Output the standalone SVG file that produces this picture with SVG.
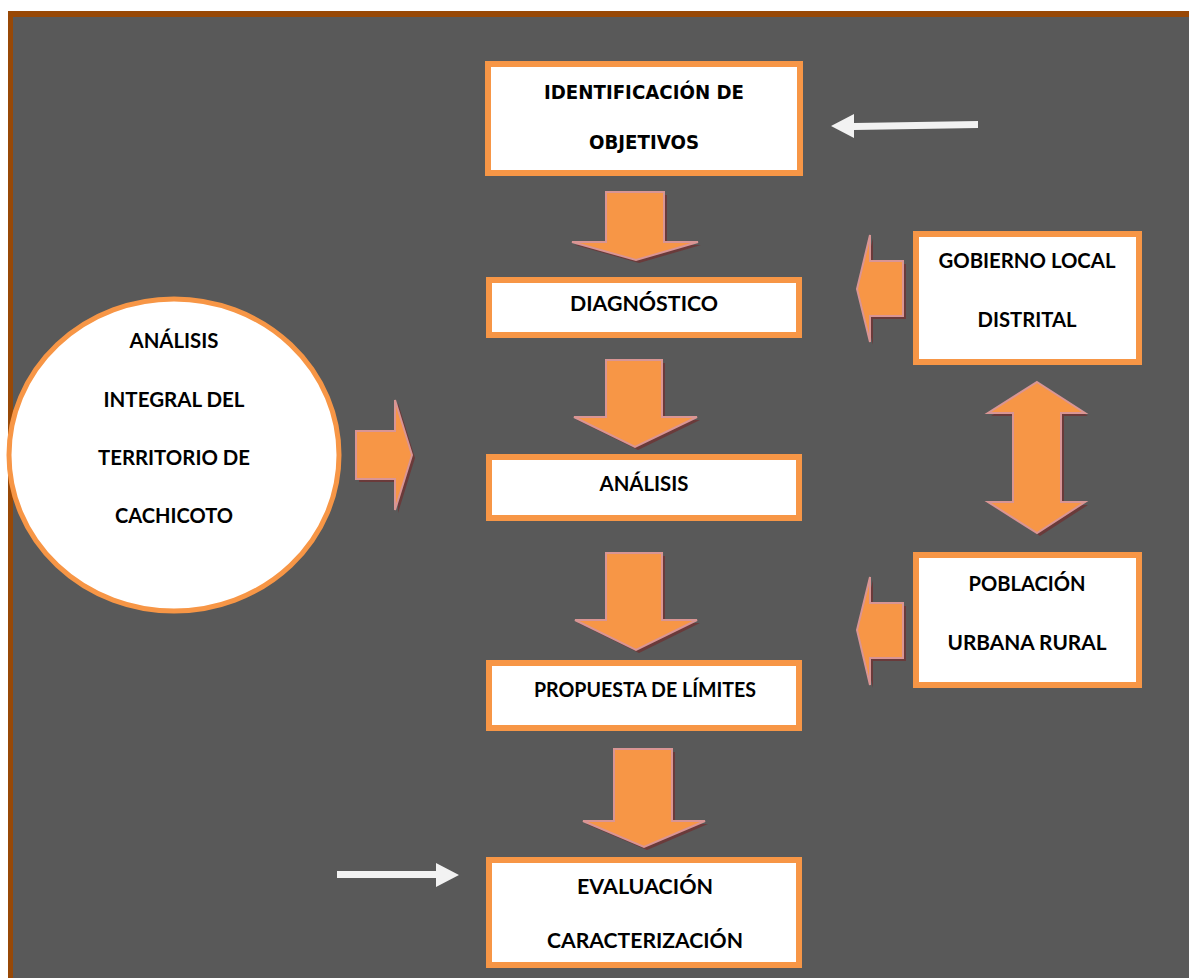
<svg xmlns="http://www.w3.org/2000/svg" width="1189" height="978" viewBox="0 0 1189 978">
<defs>
<style>
.box{fill:#ffffff;stroke:#F79646;stroke-width:6}
.arr{fill:#F79646;stroke:#D99594;stroke-width:2;stroke-linejoin:miter}
.sh{fill:#6a3a3a;stroke:none}
.wa{fill:#F2F2F2;stroke:none}
.t{font-family:Lato,"Liberation Sans",sans-serif;font-weight:bold;font-size:20px;fill:#000;text-anchor:middle}
.tg{font-family:"DejaVu Sans","Liberation Sans",sans-serif;font-weight:bold;font-size:19px;fill:#000;text-anchor:middle}
</style>
</defs>
<rect x="0" y="0" width="1189" height="978" fill="#ffffff"/>
<rect x="8" y="11" width="1181" height="967" fill="#984806"/>
<rect x="13" y="17" width="1176" height="961" fill="#595959"/>

<g id="connectors">
  <g transform="translate(3,3)">
    <polygon class="sh" points="606,192 664,192 664,242 698,242 636,260 572,242 606,242"/>
    <polygon class="sh" points="606,360 662,360 662,417 697,417 635,447 574,417 606,417"/>
    <polygon class="sh" points="606,553 662,553 662,620 697,620 636,650 575,620 606,620"/>
    <polygon class="sh" points="614,749 672,749 672,821 705,821 644,847 583,821 614,821"/>
    <polygon class="sh" points="356,431 395,431 395,400 412,455 395,510 395,479 356,479"/>
    <polygon class="sh" points="903,261 870,261 870,235 857,289 870,342 870,316 903,316"/>
    <polygon class="sh" points="903,603 870,603 870,577 857,630 870,685 870,658 903,658"/>
    <polygon class="sh" points="1037,382 1085,413 1061,413 1061,502 1085,502 1037,533 988,502 1013,502 1013,413 988,413"/>
  </g>
  <polygon class="arr" points="606,192 664,192 664,242 698,242 636,260 572,242 606,242"/>
  <polygon class="arr" points="606,360 662,360 662,417 697,417 635,447 574,417 606,417"/>
  <polygon class="arr" points="606,553 662,553 662,620 697,620 636,650 575,620 606,620"/>
  <polygon class="arr" points="614,749 672,749 672,821 705,821 644,847 583,821 614,821"/>
  <polygon class="arr" points="356,431 395,431 395,400 412,455 395,510 395,479 356,479"/>
  <polygon class="arr" points="903,261 870,261 870,235 857,289 870,342 870,316 903,316"/>
  <polygon class="arr" points="903,603 870,603 870,577 857,630 870,685 870,658 903,658"/>
  <polygon class="arr" points="1037,382 1085,413 1061,413 1061,502 1085,502 1037,533 988,502 1013,502 1013,413 988,413"/>
  <polygon class="wa" points="978,121 978,128 854,130 854,138 831,126 854,114 854,123"/>
  <polygon class="wa" points="337,871 436,871 436,863 459,875 436,887 436,878 337,878"/>
</g>

<g id="n-identificacion">
  <rect class="box" x="488" y="64" width="312" height="109"/>
  <text class="tg" x="644" y="99" textLength="200" lengthAdjust="spacingAndGlyphs">IDENTIFICACIÓN DE</text>
  <text class="tg" x="644" y="149" textLength="110" lengthAdjust="spacingAndGlyphs">OBJETIVOS</text>
</g>
<g id="n-diagnostico">
  <rect class="box" x="489" y="280" width="310" height="55"/>
  <text class="t" x="644" y="311" textLength="148" lengthAdjust="spacingAndGlyphs">DIAGNÓSTICO</text>
</g>
<g id="n-analisis">
  <rect class="box" x="489" y="457" width="310" height="61"/>
  <text class="t" x="644" y="491" textLength="89" lengthAdjust="spacingAndGlyphs">ANÁLISIS</text>
</g>
<g id="n-propuesta">
  <rect class="box" x="489" y="663" width="310" height="65"/>
  <text class="t" x="645" y="697" textLength="222" lengthAdjust="spacingAndGlyphs">PROPUESTA DE LÍMITES</text>
</g>
<g id="n-evaluacion">
  <rect class="box" x="489" y="860" width="310" height="105"/>
  <text class="t" x="645" y="894" textLength="136" lengthAdjust="spacingAndGlyphs">EVALUACIÓN</text>
  <text class="t" x="645" y="948" textLength="196" lengthAdjust="spacingAndGlyphs">CARACTERIZACIÓN</text>
</g>
<g id="n-gobierno">
  <rect class="box" x="916" y="234" width="223" height="128"/>
  <text class="t" x="1027" y="268" textLength="177" lengthAdjust="spacingAndGlyphs">GOBIERNO LOCAL</text>
  <text class="t" x="1027" y="327" textLength="99" lengthAdjust="spacingAndGlyphs">DISTRITAL</text>
</g>
<g id="n-poblacion">
  <rect class="box" x="916" y="555" width="223" height="130"/>
  <text class="t" x="1027" y="591" textLength="117" lengthAdjust="spacingAndGlyphs">POBLACIÓN</text>
  <text class="t" x="1027" y="650" textLength="159" lengthAdjust="spacingAndGlyphs">URBANA RURAL</text>
</g>
<g id="n-territorio">
  <ellipse cx="174" cy="455" rx="165" ry="156" fill="#ffffff" stroke="#F79646" stroke-width="5"/>
  <text class="t" x="174" y="348" textLength="89" lengthAdjust="spacingAndGlyphs">ANÁLISIS</text>
  <text class="t" x="174" y="407" textLength="141" lengthAdjust="spacingAndGlyphs">INTEGRAL DEL</text>
  <text class="t" x="174" y="465" textLength="152" lengthAdjust="spacingAndGlyphs">TERRITORIO DE</text>
  <text class="t" x="174" y="523" textLength="118" lengthAdjust="spacingAndGlyphs">CACHICOTO</text>
</g>
</svg>
